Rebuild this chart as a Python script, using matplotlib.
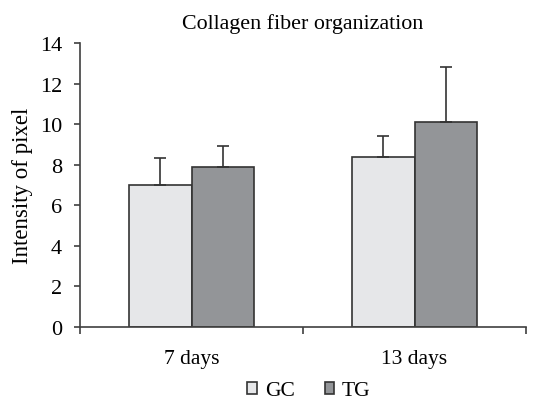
import numpy as np
import matplotlib.pyplot as plt

plt.rcParams['font.family'] = ['Liberation Serif', 'DejaVu Serif']

groups = ['7 days', '13 days']
series = ['GC', 'TG']
gc_vals = [7.0, 8.4]
tg_vals = [7.9, 10.1]
gc_err = [1.35, 1.0]
tg_err = [1.0, 2.7]
colors = ['#e6e7e9', '#939598']
edge = '#333333'

fig = plt.figure(figsize=(5.36, 4.02), dpi=100)
ax = fig.add_axes([80 / 536, 74 / 402, 446 / 536, 284 / 402])

x = np.arange(len(groups))
w = 0.28
for i, (vals, err) in enumerate([(gc_vals, gc_err), (tg_vals, tg_err)]):
    pos = x + (i - 0.5) * w
    ax.bar(pos, vals, width=w, color=colors[i], edgecolor=edge, linewidth=1.2,
           label=series[i], zorder=2)
    ax.errorbar(pos, vals, yerr=[np.zeros(len(err)), err], fmt='none',
                ecolor=edge, elinewidth=1.2, capsize=4.5, capthick=1.2, zorder=3)

ax.set_xlim(-0.5, 1.5)
ax.set_ylim(0, 14)
ax.set_yticks(range(0, 15, 2))
ax.set_xticks(x)
ax.set_xticklabels(groups, fontsize=15.5)
ax.set_xticks([-0.5, 0.5, 1.5], minor=True)
ax.tick_params(axis='x', which='major', length=0, pad=16)
ax.tick_params(axis='x', which='minor', length=5, width=1.2, color='#404040', direction='out')
ax.tick_params(axis='y', labelsize=16, length=4, width=1.2, color='#404040', pad=9)
for s in ['top', 'right']:
    ax.spines[s].set_visible(False)
for s in ['left', 'bottom']:
    ax.spines[s].set_color('#404040')
    ax.spines[s].set_linewidth(1.2)

ax.set_ylabel('Intensity of pixel', fontsize=16.5, labelpad=5)
ax.set_title('Collagen fiber organization', fontsize=15.8, pad=11)

handles, labels = ax.get_legend_handles_labels()
fig.legend(handles, labels, loc='center', bbox_to_anchor=(309 / 536, 1 - 392 / 402),
           ncol=2, frameon=False, fontsize=15.5, handlelength=0.45, handleheight=0.45,
           handletextpad=0.35, columnspacing=1.4, borderpad=0)

fig.savefig('out.png', dpi=100)
